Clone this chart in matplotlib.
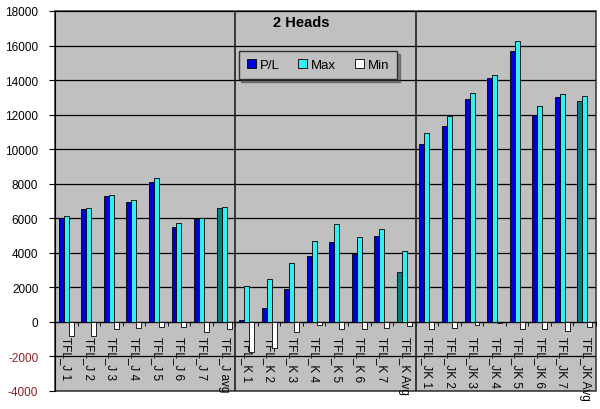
import numpy as np
import matplotlib.pyplot as plt

plt.rcParams['font.family'] = ['Liberation Sans', 'DejaVu Sans']

# datos
labels = ["TFL_J 1", "TFL_J 2", "TFL_J 3", "TFL_J 4", "TFL_J 5", "TFL_J 6", "TFL_J 7", "TFL_J avg",
          "TFL_K 1", "TFL_K 2", "TFL_K 3", "TFL_K 4", "TFL_K 5", "TFL_K 6", "TFL_K 7", "TFL_K Avg",
          "TFL_JK 1", "TFL_JK 2", "TFL_JK 3", "TFL_JK 4", "TFL_JK 5", "TFL_JK 6", "TFL_JK 7", "TFL_JK Avg"]
pl  = [6000, 6540, 7290, 6950, 8100, 5480, 5980, 6610,
       130, 790, 1910, 3840, 4610, 3940, 4960, 2880,
       10300, 11340, 12900, 14100, 15680, 12000, 13040, 12770]
mx  = [6150, 6610, 7330, 7080, 8310, 5710, 5990, 6630,
       2060, 2490, 3410, 4670, 5670, 4940, 5380, 4110,
       10940, 11900, 13230, 14290, 16240, 12520, 13180, 13100]
mn  = [-800, -800, -400, -350, -270, -310, -560, -400,
       -1750, -1520, -560, -180, -400, -400, -350, -210,
       -400, -370, -170, -50, -400, -400, -500, -310]
is_avg = [i % 8 == 7 for i in range(24)]

blue = '#0000D8'; cyan = '#33F0F0'; teal = '#008080'; gris = '#C0C0C0'

fig = plt.figure(figsize=(6, 4.1), dpi=100)
ax = fig.add_axes([55/600, 18/410, 541/600, 380/410])
ax.set_facecolor(gris)

x = np.arange(len(labels))
w = 0.22
pl_col = [teal if a else blue for a in is_avg]
ax.bar(x - w, pl, w, color=pl_col, edgecolor='black', linewidth=0.6, label='P/L', zorder=3)
ax.bar(x, mx, w, color=cyan, edgecolor='black', linewidth=0.6, label='Max', zorder=3)
ax.bar(x + w, mn, w, color='white', edgecolor='black', linewidth=0.6, label='Min', zorder=3)

ax.set_xlim(-0.5, len(labels) - 0.5)
ax.set_ylim(-4000, 18000)
yt = np.arange(-4000, 18001, 2000)
ax.set_yticks(yt)
ax.set_yticklabels([str(v) for v in yt], fontsize=8.5)
for t, v in zip(ax.get_yticklabels(), yt):
    if v < 0:
        t.set_color('#8B2323')
ax.tick_params(axis='y', length=4, width=0.8, pad=8)
ax.yaxis.grid(True, color='black', linewidth=0.9, zorder=1)
ax.set_axisbelow(True)

# separadores de grupos
for b in [7.5, 15.5]:
    ax.axvline(b, color='#202020', linewidth=1.2, zorder=2)

# eje x en el cero
ax.spines['bottom'].set_position(('data', 0))
ax.spines['top'].set_visible(False)
ax.spines['right'].set_visible(False)
ax.patch.set_edgecolor('#404040'); ax.patch.set_linewidth(1.2)
ax.set_xticks(x)
ax.set_xticklabels(labels, rotation=-90, fontsize=8.5, va='top', ha='center')
ax.set_xticks(np.arange(-0.5, len(labels)), minor=True)
ax.tick_params(axis='x', which='major', length=0, pad=10)
ax.tick_params(axis='x', which='minor', length=3, direction='out')

fig.text(301/600, 1 - 23/410, '2 Heads', fontsize=10.5, fontweight='bold', ha='center', va='center')

leg = fig.legend(loc='center', bbox_to_anchor=(318/600, 1 - 66/410), ncol=3, fontsize=9.5,
                 fancybox=False, shadow=True, handlelength=0.7, handleheight=0.7,
                 handletextpad=0.3, columnspacing=1.4, borderpad=0.6)
leg.get_frame().set_facecolor(gris)
leg.get_frame().set_edgecolor('#303030')
leg.legend_handles[0].set_color(blue); leg.legend_handles[0].set_edgecolor('black')

plt.savefig('out.png', dpi=100)
